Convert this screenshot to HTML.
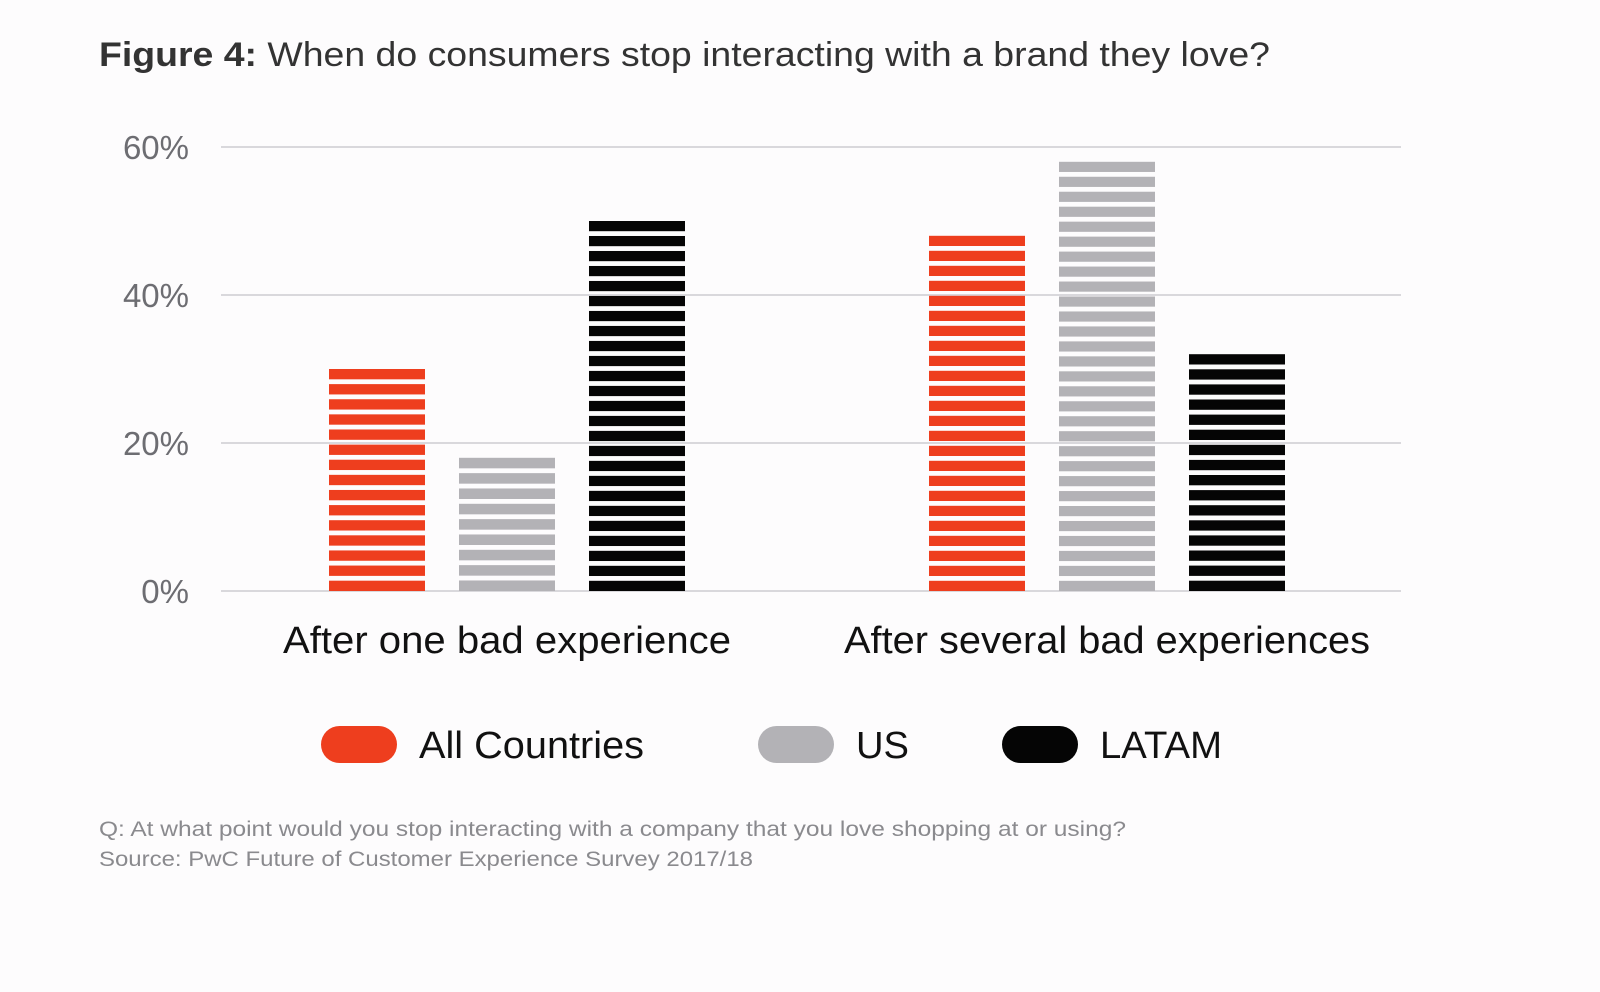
<!DOCTYPE html>
<html><head><meta charset="utf-8">
<style>
html,body{margin:0;padding:0;background:#fdfcfd;}
body{width:1600px;height:987px;overflow:hidden;font-family:"Liberation Sans",Arial,sans-serif;}
</style></head>
<body>
<svg id="chart" width="1600" height="987" xmlns="http://www.w3.org/2000/svg" font-family="Liberation Sans, Arial, sans-serif">
<text x="99" y="66" font-size="34" fill="#333" textLength="1171" lengthAdjust="spacingAndGlyphs"><tspan font-weight="bold">Figure 4:</tspan> When do consumers stop interacting with a brand they love?</text>
<g id="grid"></g>
<g id="bars"></g>
<g id="legend"></g>
<text x="99" y="836" font-size="21.5" fill="#8a8a8e" textLength="1027" lengthAdjust="spacingAndGlyphs">Q: At what point would you stop interacting with a company that you love shopping at or using?</text>
<text x="99" y="866" font-size="21.5" fill="#8a8a8e" textLength="654" lengthAdjust="spacingAndGlyphs">Source: PwC Future of Customer Experience Survey 2017/18</text>
</svg>
<script>
const categories = ["After one bad experience", "After several bad experiences"];
const seriesNames = ["All Countries", "US", "LATAM"];
const allCountries = [30, 48];
const us = [18, 58];
const latam = [50, 32];
const yTicks = [0, 20, 40, 60];
const tickLabels = ["0%", "20%", "40%", "60%"];

const NS = "http://www.w3.org/2000/svg";
const colors = ["#ee3e1e", "#b3b2b6", "#050505"];
const series = [allCountries, us, latam];
const catLabelW = [448, 526];
const legendLabelW = [225, 53, 122];
const y0 = 591, yTop = 147, yMax = 60;
function yScale(v){ return y0 - (v / yMax) * (y0 - yTop); }
const groupStart = [329, 929], barPitch = 130, barW = 96;
function xBar(ci, si){ return groupStart[ci] + si * barPitch; }
function mk(tag, attrs, parent){ const e = document.createElementNS(NS, tag); for (const k in attrs) e.setAttribute(k, attrs[k]); parent.appendChild(e); return e; }

const grid = document.getElementById('grid');
yTicks.forEach((t, i) => {
  const y = yScale(t);
  const l = mk('line', {x1:221, x2:1401, y1:y, y2:y, stroke:'#d9d8dc', 'stroke-width':2}, grid);
  
  
  const tx = mk('text', {x:189, y:y + 12, 'font-size':33, fill:'#6d6d72', 'text-anchor':'end'}, grid);
  tx.textContent = tickLabels[i];
  
  
});

const bars = document.getElementById('bars');
categories.forEach((c, ci) => {
  series.forEach((s, si) => {
    const g = mk('g', {}, bars);
    
    
    const top = yScale(s[ci]), x = xBar(ci, si);
    const H = y0 - top, gap = 4.8;
    const n = Math.max(1, Math.round((H + gap) / 14.8));
    const p = (H + gap) / n;
    for (let k = 0; k < n; k++) {
      mk('rect', {x:x, y:top + k * p, width:barW, height:p - gap, fill:colors[si]}, g);
    }
  });
  const lab = mk('text', {x:groupStart[ci] + barPitch + barW/2, y:653, 'font-size':38, fill:'#111', 'text-anchor':'middle', textLength:catLabelW[ci], lengthAdjust:'spacingAndGlyphs'}, bars);
  lab.textContent = c;
  
  
});

const legend = document.getElementById('legend');
const legX = [321, 758, 1002];
seriesNames.forEach((n, i) => {
  const g = mk('g', {}, legend);
  
  
  mk('rect', {x:legX[i], y:726, width:76, height:37, rx:18.5, fill:colors[i]}, g);
  const t = mk('text', {x:legX[i] + 98, y:758, 'font-size':38, fill:'#111', textLength:legendLabelW[i], lengthAdjust:'spacingAndGlyphs'}, g);
  t.textContent = n;
});
</script>
</body></html>
